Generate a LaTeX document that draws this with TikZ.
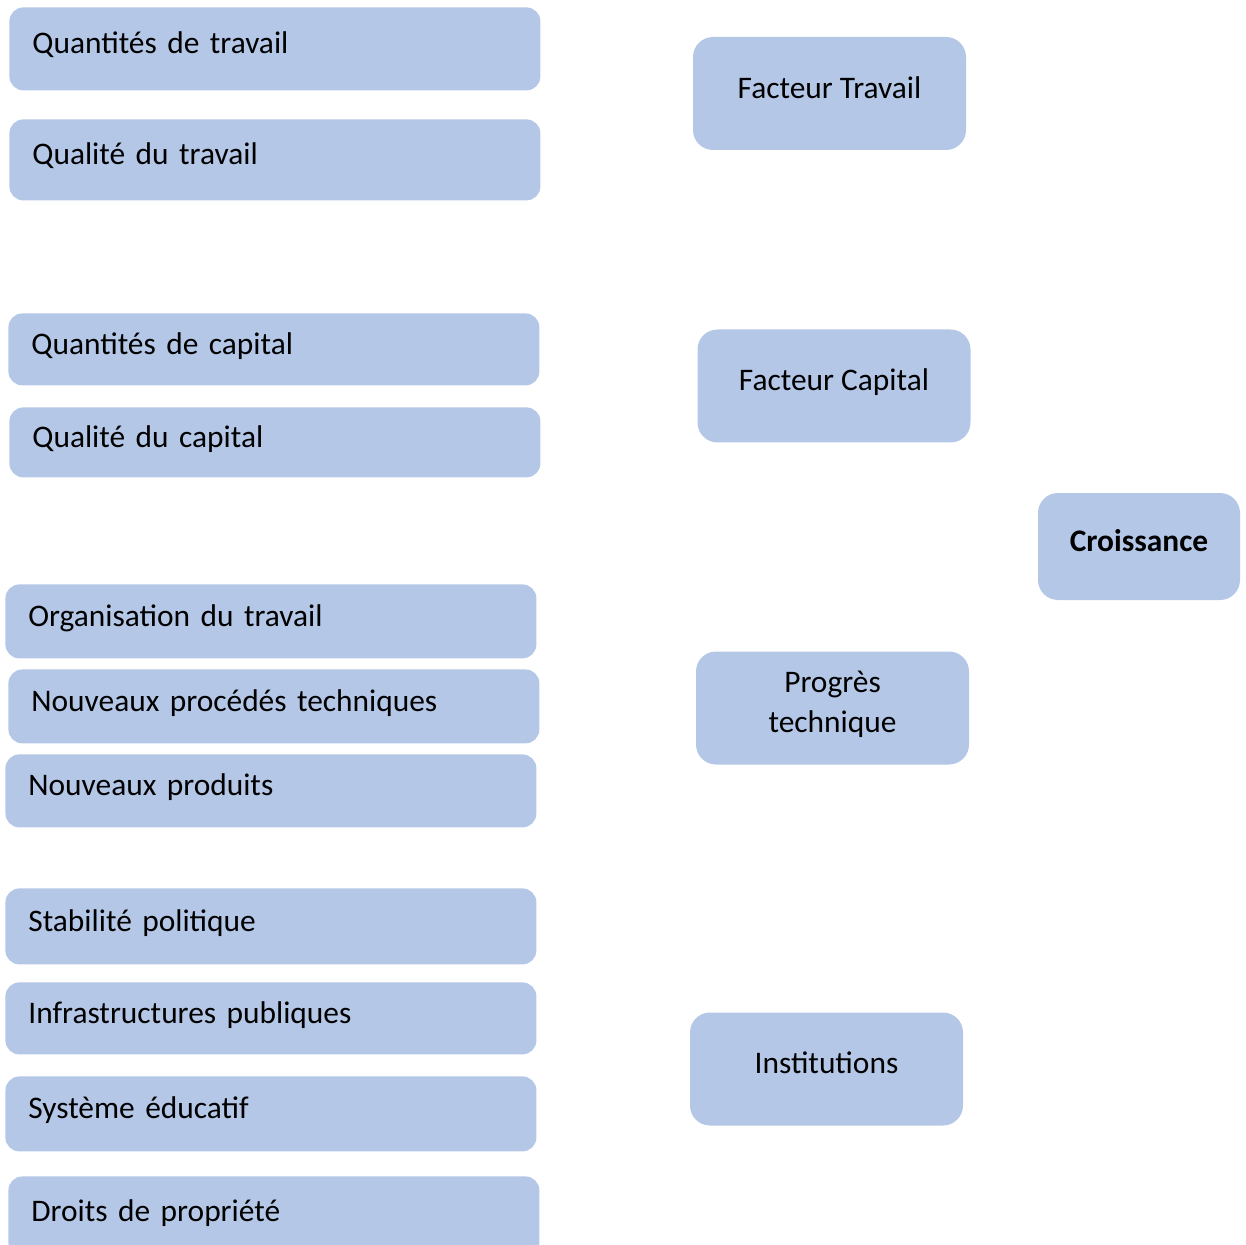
\documentclass[tikz,border=0pt]{standalone}
\usepackage{fontspec}
\setmainfont{Carlito}
\usepackage{xcolor}
\definecolor{boxblue}{HTML}{B4C7E7}

\tikzset{
  leftbox/.style={rectangle, rounded corners=7pt, fill=boxblue, anchor=north west,
    text width=242.5pt, inner xsep=11.5pt, inner ysep=0pt, align=left,
    text height=11pt, text depth=6.2pt,
    font=\fontsize{15.7}{19.5}\selectfont},
  rightbox/.style={rectangle, rounded corners=10pt, fill=boxblue,
    minimum width=136.5pt, minimum height=56.5pt, inner sep=0pt, align=center,
    text height=11pt, text depth=6.2pt,
    font=\fontsize{15.7}{20}\selectfont},
}

\begin{document}
\begin{tikzpicture}[x=0.5pt, y=-0.5pt]
	\useasboundingbox (0,0) rectangle (1246,1245);
	% Define nodes
	\node[leftbox, minimum height=41.5pt] (qtravail)  at (9,7)    {Quantités de travail};
	\node[leftbox, minimum height=40.5pt] (qltravail) at (9,119)  {Qualité du travail};
	\node[leftbox, minimum height=36pt]   (qcapital)  at (8,313)  {Quantités de capital};
	\node[leftbox, minimum height=35pt]   (qlcapital) at (9,407)  {Qualité du capital};

	\node[leftbox, minimum height=37pt]   (orga)      at (5,584)  {Organisation du travail};
	\node[leftbox, minimum height=37pt]   (procedes)  at (8,669)  {Nouveaux procédés techniques};
	\node[leftbox, minimum height=36.5pt] (produits)  at (5,754)  {Nouveaux produits};

	\node[leftbox, minimum height=38pt]   (stabilite) at (5,888)  {Stabilité politique};
	\node[leftbox, minimum height=36pt]   (infra)     at (5,982)  {Infrastructures publiques};
	\node[leftbox, minimum height=37.5pt] (educ)      at (5,1076) {Système éducatif};
	\node[leftbox, minimum height=40pt]   (droits)    at (8,1176) {Droits de propriété};

	% Factors
	\node[rightbox] (ftravail)     at (829.5,93.5) {Facteur Travail};
	\node[rightbox] (fcapital)     at (834,386)    {Facteur Capital};
	\node[rightbox, text height={}, text depth=6.1pt] (progres) at (832.5,708) {Progrès\\technique};
	\node[rightbox] (institutions) at (826.5,1069) {Institutions};

	\node[rightbox, minimum width=101pt, minimum height=53.5pt, font=\fontsize{15.7}{20}\selectfont\bfseries] (croissance) at (1139,546.5) {Croissance};
\end{tikzpicture}
\end{document}
